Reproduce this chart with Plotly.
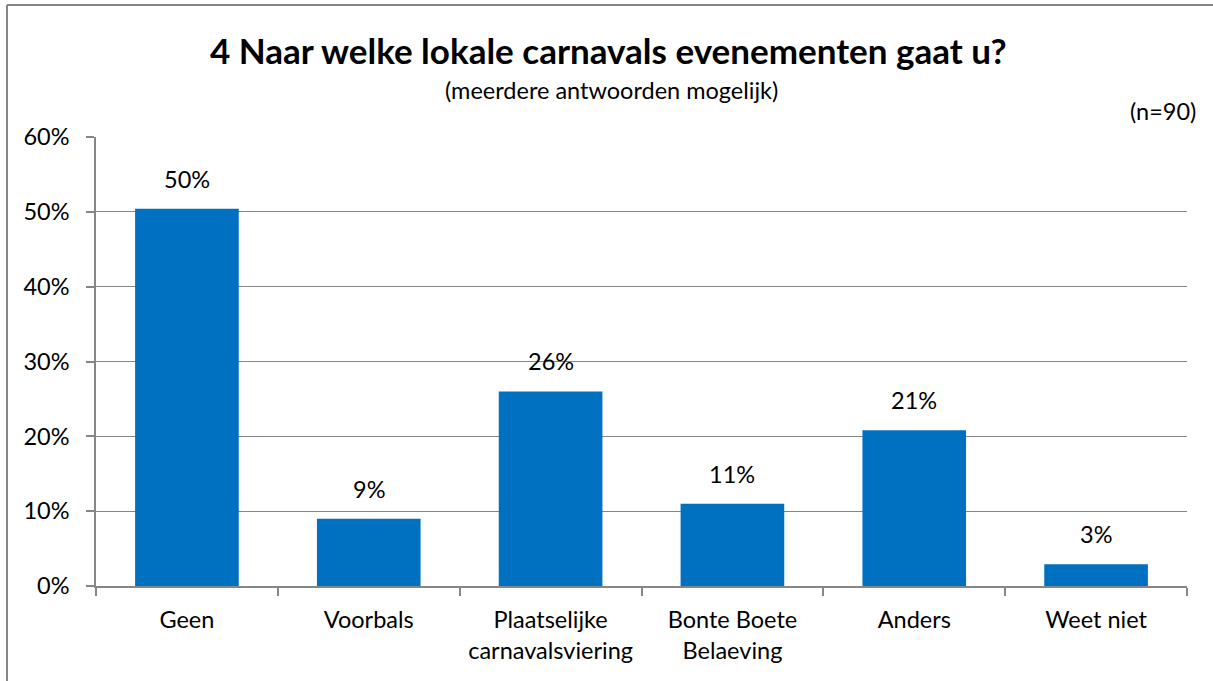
import plotly.graph_objects as go

categories = ["Geen", "Voorbals", "Plaatselijke<br>carnavalsviering", "Bonte Boete<br>Belaeving", "Anders", "Weet niet"]
values = [0.504, 0.090, 0.260, 0.110, 0.208, 0.029]
labels = ["50%", "9%", "26%", "11%", "21%", "3%"]
y_ticks = [0, 0.1, 0.2, 0.3, 0.4, 0.5, 0.6]

FONT = "Lato"
GRID = "#868686"
FS = 23.5

fig = go.Figure()
fig.add_trace(go.Bar(
    x=categories, y=values,
    marker=dict(color="#0070C0", line=dict(width=0)),
    hoverinfo="x+y",
))

annotations = [
    dict(x=c, y=v, xref="x", yref="y", text=t, showarrow=False,
         xanchor="center", yanchor="bottom", yshift=14,
         font=dict(family=FONT, size=FS, color="black"))
    for c, v, t in zip(categories, values, labels)
]

annotations += [
    dict(text="<b>4 Naar welke lokale carnavals evenementen gaat u?</b>",
         xref="paper", yref="paper", x=(608 - 96) / 1091, y=(586 - 50) / 449,
         xanchor="center", yanchor="middle", showarrow=False,
         font=dict(family=FONT, size=35, color="black")),
    dict(text="(meerdere antwoorden mogelijk)",
         xref="paper", yref="paper", x=(611 - 96) / 1091, y=(586 - 90) / 449,
         xanchor="center", yanchor="middle", showarrow=False,
         font=dict(family=FONT, size=FS, color="black")),
    dict(text="(n=90)",
         xref="paper", yref="paper", x=(1198 - 96) / 1091, y=(586 - 111) / 449,
         xanchor="right", yanchor="middle", showarrow=False,
         font=dict(family=FONT, size=FS, color="black")),
]

x_left = -(96 - 7) / 1091
y_top = (586 - 5) / 449

fig.update_layout(
    width=1213, height=681,
    margin=dict(l=96, r=26, t=137, b=95),
    paper_bgcolor="white", plot_bgcolor="white",
    bargap=0.43,
    showlegend=False,
    font=dict(family=FONT, size=FS, color="black"),
    xaxis=dict(
        showline=True, linecolor=GRID, linewidth=1.5,
        ticks="outside", ticklen=8, tickcolor=GRID, tickwidth=1.5,
        tickson="boundaries", showgrid=False,
        ticklabelstandoff=12,
        tickfont=dict(family=FONT, size=FS, color="black"),
    ),
    yaxis=dict(
        range=[0, 0.6], tickvals=y_ticks, tickformat=".0%",
        showline=True, linecolor=GRID, linewidth=1.5,
        ticks="outside", ticklen=8, tickcolor=GRID, tickwidth=1.5,
        showgrid=True, gridcolor=GRID, gridwidth=1.2,
        zeroline=False,
        ticklabelstandoff=12,
        tickfont=dict(family=FONT, size=FS, color="black"),
    ),
    shapes=[
        dict(type="line", xref="paper", yref="paper",
             x0=x_left, x1=x_left, y0=-0.5, y1=y_top,
             line=dict(color="#868686", width=2), layer="below"),
        dict(type="line", xref="paper", yref="paper",
             x0=x_left, x1=1.2, y0=y_top, y1=y_top,
             line=dict(color="#868686", width=2), layer="below"),
    ],
    annotations=annotations,
)

fig.write_html("out.html")
